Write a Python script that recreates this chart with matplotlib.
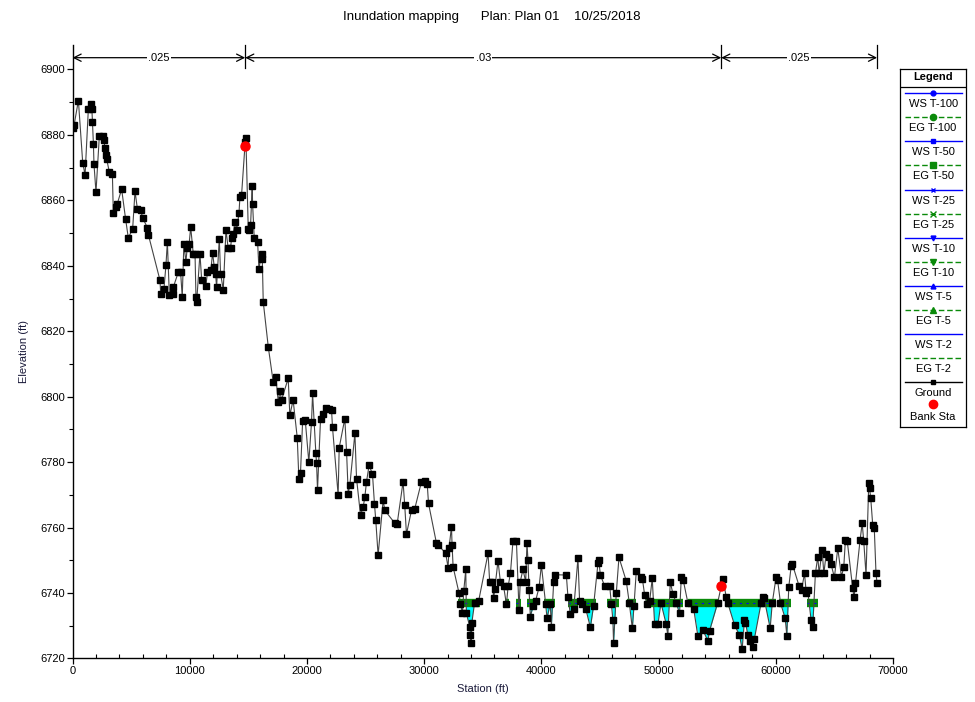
import numpy as np
import matplotlib
matplotlib.use('Agg')
import matplotlib.pyplot as plt
from matplotlib.ticker import MultipleLocator

plt.rcParams['font.family'] = ['Liberation Sans', 'DejaVu Sans']

title = "Inundation mapping      Plan: Plan 01    10/25/2018"
x_label = "Station (ft)"
y_label = "Elevation (ft)"

# ---------------- data ----------------
ground_station = [
    0, 130, 500, 870, 1070, 1350, 1550, 1650, 1700, 1780, 1830, 2000, 2290, 2570, 2700,
    2750, 2830, 2920, 3140, 3400, 3480, 3710, 3820, 4190, 4530, 4760, 5130, 5330, 5530,
    5810, 6000, 6380, 6470, 7460, 7520, 7800, 7970, 8090, 8260, 8540, 8600, 9020, 9220,
    9360, 9500, 9670, 9780, 9950, 10080, 10300, 10450, 10530, 10590, 10870, 11020, 11370,
    11510, 11800, 11950, 12090, 12200, 12290, 12520, 12630, 12860, 13090, 13280, 13480,
    13570, 13710, 13850, 14000, 14200, 14280, 14420, 14730, 14790, 14990, 15070, 15190,
    15330, 15360, 15500, 15790, 15900, 16130, 16190, 16270,
    16700, 17120, 17350, 17550, 17690, 17830, 18400, 18540, 18820, 19170, 19310, 19450,
    19630, 19850, 20160, 20390, 20480, 20760, 20820, 20900, 21160, 21390, 21610, 21840,
    22100, 22180, 22660, 22750, 23230, 23380, 23520, 23660, 24090, 24230, 24570, 24800,
    24940, 25080, 25300, 25590, 25760, 25870, 26070, 26500, 26640, 27500, 27690, 28200,
    28340, 28490, 28920, 29200, 29770, 30060, 30260, 30370, 31050, 31200, 31840, 32040,
    32120, 32330, 32380, 32470,
    32980, 33090, 33270, 33380, 33550, 33600, 33890, 33950, 34000, 34060, 34300, 34650,
    35450, 35590, 35820, 35930, 36020, 36300, 36500, 36780, 37020, 37160, 37360, 37580,
    37870, 38090, 38200, 38430, 38660, 38770, 38860, 38950, 39060, 39290, 39500, 39800,
    40000, 40370, 40480, 40760, 40850, 41050, 41140, 42130, 42270, 42470, 42760, 43120,
    43260, 43500, 43800, 44180, 44450, 44830, 44900, 45030, 45400, 45830, 45970, 46100,
    46160, 46390, 46620, 47240, 47500, 47760, 47900, 48100, 48520, 48620, 48810, 49000,
    49240, 49460, 49660, 49950, 50200, 50650, 50790, 51000, 51230, 51500, 51790, 51940,
    52100, 52500, 53000, 53350, 53780, 54200, 54350, 55040, 55345, 55485, 55770, 55900,
    56480, 56900, 57130, 57330, 57415, 57615, 57810, 58040, 58180, 58750, 58890, 59000,
    59520, 59700, 60030, 60150, 60400, 60800, 60940, 61110, 61310, 61400, 62000, 62200,
    62450, 62600, 62720, 63010, 63150, 63380, 63580, 63700, 63950, 64100, 64300, 64500,
    64700, 65000, 65290, 65600, 65800, 65940, 66100, 66560, 66680, 66800, 67190, 67370,
    67500, 67700, 67930, 68000, 68100, 68270, 68400, 68550, 68640,
]
ground_elev = [
    6882, 6883, 6890.5, 6871.4, 6867.8, 6888, 6889.5, 6888, 6884, 6877.3, 6871, 6862.5,
    6879.8, 6879.8, 6878.3, 6876, 6874, 6872.5, 6868.6, 6868, 6856, 6858, 6859, 6863.4,
    6854.2, 6848.5, 6851.4, 6862.8, 6857.5, 6857, 6854.5, 6851.7, 6849.5, 6835.6, 6831.5,
    6833, 6840.2, 6847.3, 6831, 6831.3, 6833.5, 6838, 6838, 6830.5, 6846.8, 6841.2,
    6845.3, 6846.8, 6851.8, 6843.7, 6843.7, 6830.5, 6829, 6843.7, 6835.6, 6833.7, 6838,
    6838.8, 6843.9, 6839.7, 6837.6, 6833.5, 6848.3, 6837.6, 6832.7, 6851, 6845.3, 6845.3,
    6848.6, 6849.7, 6853.4, 6851, 6856, 6861, 6861.6, 6877.8, 6879, 6851.4, 6851, 6852.5,
    6864.4, 6859, 6848.6, 6847.3, 6839.1, 6843.7, 6842, 6829,
    6815.2, 6804.5, 6806, 6798.4, 6801.7, 6799, 6805.6, 6794.3, 6799, 6787.5, 6775,
    6776.7, 6792.6, 6793, 6780, 6792.3, 6801, 6782.7, 6779.6, 6771.5, 6793.3, 6794.8,
    6796.4, 6796.1, 6795.8, 6790.6, 6770, 6784.4, 6793.3, 6783.1, 6770.4, 6773, 6788.8,
    6775, 6763.8, 6766.3, 6769.4, 6774, 6779, 6776.4, 6767.2, 6762.3, 6751.6, 6768.4,
    6765.3, 6761.3, 6761, 6774, 6766.9, 6758, 6765.3, 6765.8, 6774, 6774.3, 6773.4,
    6767.4, 6755.2, 6754.7, 6752.1, 6747.8, 6753.7, 6760.3, 6754.7, 6748,
    6739.9, 6736.8, 6733.8, 6740.7, 6747.2, 6733.8, 6729.7, 6727.2, 6724.6, 6730.7, 6737,
    6737.6, 6752.1, 6743.4, 6743.4, 6738.4, 6741.1, 6749.9, 6743.5, 6742, 6736.5, 6742,
    6746, 6756, 6756, 6734.8, 6743.5, 6747.2, 6743.5, 6755.2, 6750, 6740.8, 6732.8, 6736,
    6737.5, 6741.7, 6748.5, 6736.5, 6732.3, 6736.8, 6729.7, 6743.4, 6745.6, 6745.5,
    6738.7, 6733.6, 6735.2, 6750.6, 6737.6, 6736.5, 6735, 6729.5, 6736, 6749.1, 6750,
    6745.6, 6742.1, 6742.1, 6736.8, 6731.8, 6724.8, 6739.9, 6750.9, 6743.7, 6737, 6729.2,
    6736, 6746.8, 6744.8, 6744.3, 6739.4, 6736.5, 6737.6, 6744.5, 6730.5, 6730.5, 6737,
    6730.5, 6727, 6743.4, 6739.6, 6737, 6733.8, 6745, 6744, 6737, 6735, 6726.9, 6728.7,
    6725.4, 6728.5, 6737, 6742.1, 6744.2, 6738.9, 6737, 6730.2, 6727.2, 6722.8, 6731.8,
    6730.9, 6727.2, 6725.2, 6723.6, 6726.1, 6737, 6738.7, 6738.5, 6729.2, 6737, 6745,
    6744, 6737, 6732.3, 6727, 6741.9, 6748.2, 6749, 6742, 6741, 6746, 6740, 6740.9,
    6731.8, 6729.6, 6746, 6751.1, 6746, 6753.1, 6746, 6752, 6751, 6749, 6744.8, 6753.7,
    6745, 6748, 6756.2, 6755.8, 6741.4, 6738.7, 6743, 6756.2, 6761.3, 6756, 6745.5,
    6773.5, 6772, 6769, 6760.8, 6760, 6746, 6743,
]

bank_station = [14730, 55345]
bank_elev = [6876.5, 6742.1]

n_bounds = [0, 14730, 55345, 68640]
n_values = ['.025', '.03', '.025']

ws_elev = 6737.0
wet_start = [32860, 36870, 37870, 38770, 40190, 42270, 43260, 45590, 47300, 48950,
             52500, 55710, 60310, 62640]
wet_end = [34740, 37210, 38300, 39620, 41130, 43120, 44690, 46610, 48100, 52070,
           55140, 60030, 61310, 63580]

legend_labels = ['WS T-100', 'EG T-100', 'WS T-50', 'EG T-50', 'WS T-25', 'EG T-25',
                 'WS T-10', 'EG T-10', 'WS T-5', 'EG T-5', 'WS T-2', 'EG T-2',
                 'Ground', 'Bank Sta']

# ---------------- figure ----------------
fig = plt.figure(figsize=(9.75, 7.02), dpi=100)
ax = fig.add_axes([0.0744, 0.062, 0.8415, 0.874])

gx = np.array(ground_station, dtype=float)
gy = np.array(ground_elev, dtype=float)

WS_BLUE = '#0000FF'
EG_GREEN = '#0A8A0A'
CYAN = '#00FFFF'

for s, e in zip(wet_start, wet_end):
    xs = np.linspace(s, e, 600)
    gi = np.interp(xs, gx, gy)
    ax.fill_between(xs, gi, ws_elev, where=gi < ws_elev, interpolate=True,
                    color=CYAN, lw=0, zorder=2)
    ax.plot([s, e], [ws_elev, ws_elev], color=EG_GREEN, lw=6,
            solid_capstyle='butt', zorder=3)
    ax.plot([s, e], [ws_elev, ws_elev], color=WS_BLUE, lw=0.8,
            ls=(0, (2, 4)), zorder=3.5)

ax.plot(gx, gy, color='#444444', lw=0.8, marker='s', ms=4.5,
        mfc='black', mec='black', zorder=4)
ax.plot(bank_station, bank_elev, ls='none', marker='o', ms=6.5,
        color='#FF0000', zorder=5)

# n-value annotation
ax.set_xlim(0, 70000)
ax.set_ylim(6720, 6907.5)
y_arrow = 6903.6
for i in range(len(n_values)):
    x0, x1 = n_bounds[i], n_bounds[i + 1]
    ax.annotate('', xy=(x0, y_arrow), xytext=(x1, y_arrow),
                arrowprops=dict(arrowstyle='<->', color='black', lw=0.9,
                                shrinkA=0, shrinkB=0, mutation_scale=13),
                zorder=6, annotation_clip=False)
    ax.text((x0 + x1) / 2, y_arrow, n_values[i], ha='center', va='center',
            fontsize=8, bbox=dict(facecolor='white', edgecolor='none', pad=1.0),
            zorder=7)
for xb in n_bounds[1:]:
    ax.plot([xb, xb], [6900.5, 6907.5], color='black', lw=0.9, zorder=6,
            clip_on=False)

# axes styling
for side in ['top', 'right']:
    ax.spines[side].set_visible(False)
ax.spines['left'].set_linewidth(1.0)
ax.spines['bottom'].set_linewidth(1.0)
ax.xaxis.set_major_locator(MultipleLocator(10000))
ax.xaxis.set_minor_locator(MultipleLocator(2000))
ax.yaxis.set_minor_locator(MultipleLocator(10))
ax.set_yticks(np.arange(6720, 6901, 20))
ax.tick_params(axis='both', which='major', labelsize=8, length=4, width=0.9,
               direction='out', pad=1.5, colors='black')
ax.tick_params(axis='x', which='minor', length=3, width=0.8, direction='in')
ax.tick_params(axis='y', which='minor', length=3, width=0.8, direction='out')
ax.set_xlabel(x_label, fontsize=8, labelpad=6, color='#1a1a3a')
ax.set_ylabel(y_label, fontsize=8, labelpad=8, color='#1a1a3a')

fig.text(0.504, 0.976, title, ha='center', va='center', fontsize=9.5)

# ---------------- custom legend ----------------
lax = fig.add_axes([0.923, 0.392, 0.068, 1 - 0.392 - 69.3 / 702])
lax.set_xlim(0, 1)
lax.set_ylim(426.7, 69.3)
lax.set_xticks([])
lax.set_yticks([])
for sp in lax.spines.values():
    sp.set_linewidth(0.9)
lax.text(0.5, 77.0, 'Legend', ha='center', va='center', fontsize=8, fontweight='bold')
lax.plot([0, 1], [86.5, 86.5], color='black', lw=0.9)

markers = ['o', 'o', 's', 's', 'x', 'x', 'v', 'v', '^', '^', None, None]
for i in range(12):
    ly = 93.3 + 24.05 * i
    is_ws = legend_labels[i].startswith('WS')
    col = WS_BLUE if is_ws else EG_GREEN
    ls = '-' if is_ws else (0, (4, 2))
    lax.plot([0.07, 0.93], [ly, ly], color=col, lw=1.0, ls=ls)
    if markers[i] is not None:
        lax.plot([0.5], [ly], marker=markers[i], color=col,
                 ms=3.5 if i % 2 == 0 else 4.5, mew=1.0)
    lax.text(0.5, ly + 11.0, legend_labels[i], ha='center', va='center', fontsize=8)

gy_leg = 93.3 + 24.05 * 12
lax.plot([0.07, 0.93], [gy_leg, gy_leg], color='black', lw=1.0)
lax.plot([0.5], [gy_leg], marker='s', color='black', ms=3.5)
lax.text(0.5, gy_leg + 11.0, legend_labels[12], ha='center', va='center', fontsize=8)
lax.plot([0.5], [404.3], marker='o', color='#FF0000', ms=6)
lax.text(0.5, 416.7, legend_labels[13], ha='center', va='center', fontsize=8)

fig.savefig('out.png', dpi=100)
